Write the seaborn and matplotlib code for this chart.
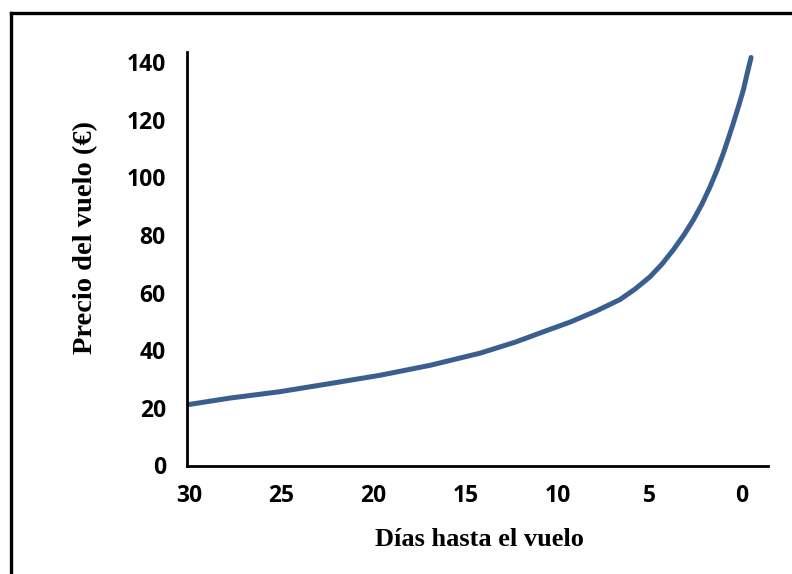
import matplotlib
matplotlib.use("Agg")
import matplotlib.pyplot as plt
from matplotlib.lines import Line2D
import seaborn as sns
import pandas as pd

# Days remaining before departure and the ticket price at that point
dias = [30, 27.8, 25.1, 22.4, 19.65, 16.9, 14.2, 12.3, 10.6, 9.3, 7.9, 6.6,
        5.79, 4.97, 4.32, 3.71, 3.13, 2.62, 2.15, 1.71, 1.33, 0.99, 0.71,
        0.45, 0.16, -0.10, -0.30, -0.52]
precio = [21.2, 23.4, 25.6, 28.4, 31.3, 34.8, 39.0, 42.8, 46.8, 49.8, 53.6, 57.6,
          61.2, 65.5, 69.9, 74.8, 80.0, 85.2, 90.7, 96.7, 102.5, 108.3, 113.6,
          118.7, 124.7, 130.3, 135.8, 141.6]

x_ticks = [30, 25, 20, 15, 10, 5, 0]
y_ticks = [0, 20, 40, 60, 80, 100, 120, 140]

sns.set_theme(style="white")
plt.rcParams["font.family"] = ["Open Sans", "DejaVu Sans"]

df = pd.DataFrame({"dias": dias, "precio": precio})

fig = plt.figure(figsize=(7.92, 5.74), dpi=100)
ax = fig.add_axes([186.7 / 792, 1 - 465.5 / 574, (768 - 186.7) / 792, (465.5 - 52) / 574])

sns.lineplot(data=df, x="dias", y="precio", ax=ax, color="#3A5F8E",
             linewidth=3.6, estimator=None, sort=False,
             solid_capstyle="round", solid_joinstyle="round")

ax.set_xlim(30.15, -1.44)
ax.set_ylim(0, 143.5)
ax.set_xticks(x_ticks)
ax.set_yticks(y_ticks)
ax.set_xticklabels([str(v) for v in x_ticks], fontweight="bold", fontsize=16.5)
ax.set_yticklabels([str(v) for v in y_ticks], fontweight="bold", fontsize=16.5)
ax.tick_params(axis="both", length=0, colors="black")
ax.tick_params(axis="x", pad=13)
ax.tick_params(axis="y", pad=15)
ax.set_xlabel("")
ax.set_ylabel("")

for side in ("top", "right"):
    ax.spines[side].set_visible(False)
for side in ("left", "bottom"):
    ax.spines[side].set_color("black")
    ax.spines[side].set_linewidth(2.0)

serif = ["Liberation Serif", "DejaVu Serif"]
fig.text(479 / 792, 1 - 539 / 574, "Días hasta el vuelo", ha="center", va="center",
         fontsize=19, fontweight="bold", family=serif, color="black")
fig.text(86 / 792, 1 - 238 / 574, "Precio del vuelo (€)", ha="center", va="center",
         rotation=90, fontsize=20.5, fontweight="bold", family=serif, color="black")

# Frame around the chart area
fig.add_artist(Line2D([10.5 / 792, 10.5 / 792], [0, 1 - 13 / 574], transform=fig.transFigure,
                      color="black", linewidth=2.4, solid_capstyle="projecting"))
fig.add_artist(Line2D([10.5 / 792, 1], [1 - 13 / 574, 1 - 13 / 574], transform=fig.transFigure,
                      color="black", linewidth=2.4, solid_capstyle="projecting"))

fig.savefig("out.png", dpi=100, facecolor="white")
